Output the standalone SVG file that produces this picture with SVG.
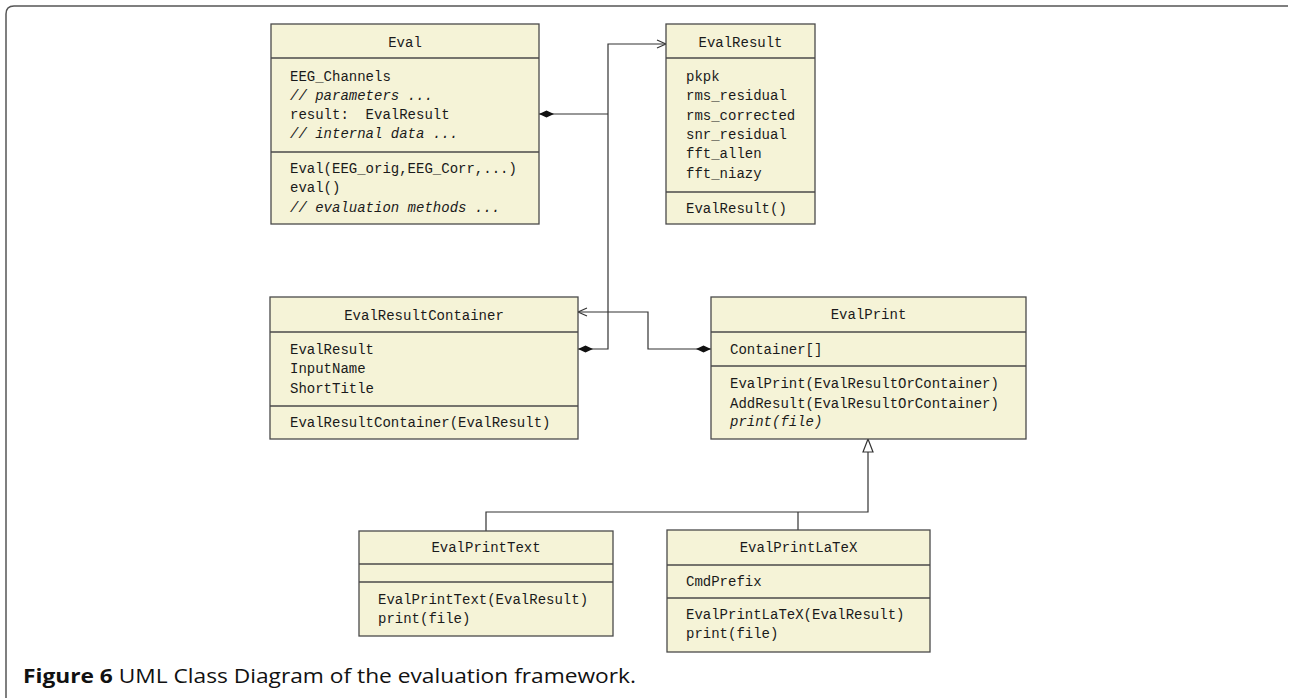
<svg xmlns="http://www.w3.org/2000/svg" width="1289" height="698" viewBox="0 0 1289 698">
<style>
.box{fill:#f5f3d7;stroke:#4a4a4a;stroke-width:1.3}
.sep{stroke:#4a4a4a;stroke-width:1.3}
.t{font-family:"Liberation Mono","DejaVu Sans Mono",monospace;font-size:14px;fill:#1a1a1a}
.i{font-style:italic}
.c{text-anchor:middle}
.ln{fill:none;stroke:#333;stroke-width:1.2}
.cap{font-family:"Open Sans","Noto Sans",sans-serif;font-size:20px;fill:#111}
</style>
<defs>
<marker id="dia" markerUnits="userSpaceOnUse" markerWidth="16" markerHeight="8" viewBox="0 0 16 8" refX="0" refY="4" orient="auto"><path d="M0,4 L7.5,0.5 L15,4 L7.5,7.5 z" fill="#111"/></marker>
<marker id="arr" markerUnits="userSpaceOnUse" markerWidth="12" markerHeight="10" viewBox="0 0 12 10" refX="10" refY="5" orient="auto"><path d="M1,1 L10,5 L1,9" fill="none" stroke="#333" stroke-width="1.1"/></marker>
<marker id="tri" markerUnits="userSpaceOnUse" markerWidth="14" markerHeight="16" viewBox="0 0 14 16" refX="14" refY="7" orient="auto"><path d="M1,2 L14,7 L1,12 z" fill="#fff" stroke="#333" stroke-width="1.2"/></marker>
</defs>
<path d="M6,698 L6,14 Q6,6 14,6 L1288,6" fill="none" stroke="#555" stroke-width="1.5"/>
<g id="connectors">
<path class="ln" d="M539,114 L608,114" marker-start="url(#dia)"/>
<path class="ln" d="M578,349 L608,349 L608,44 L666,44" marker-start="url(#dia)" marker-end="url(#arr)"/>
<path class="ln" d="M711,349 L648,349 L648,312 L578,312" marker-start="url(#dia)" marker-end="url(#arr)"/>
<path class="ln" d="M486,531 L486,512 L868,512 L868,439" marker-end="url(#tri)"/>
<path class="ln" d="M798,530 L798,512"/>
</g>
<g id="Eval">
<rect class="box" x="271" y="24" width="268" height="200"/>
<line class="sep" x1="271" y1="58" x2="539" y2="58"/>
<line class="sep" x1="271" y1="152" x2="539" y2="152"/>
<text class="t c" x="405" y="47">Eval</text>
<text class="t" x="290" y="81">EEG_Channels</text>
<text class="t i" x="290" y="100">// parameters ...</text>
<text class="t" x="290" y="119" xml:space="preserve">result:  EvalResult</text>
<text class="t i" x="290" y="138">// internal data ...</text>
<text class="t" x="290" y="173">Eval(EEG_orig,EEG_Corr,...)</text>
<text class="t" x="290" y="192">eval()</text>
<text class="t i" x="290" y="212">// evaluation methods ...</text>
</g>
<g id="EvalResult">
<rect class="box" x="666" y="24" width="149" height="200"/>
<line class="sep" x1="666" y1="58" x2="815" y2="58"/>
<line class="sep" x1="666" y1="192" x2="815" y2="192"/>
<text class="t c" x="740.5" y="47">EvalResult</text>
<text class="t" x="686" y="81">pkpk</text>
<text class="t" x="686" y="100">rms_residual</text>
<text class="t" x="686" y="120">rms_corrected</text>
<text class="t" x="686" y="139">snr_residual</text>
<text class="t" x="686" y="158">fft_allen</text>
<text class="t" x="686" y="178">fft_niazy</text>
<text class="t" x="686" y="213">EvalResult()</text>
</g>
<g id="EvalResultContainer">
<rect class="box" x="270" y="297" width="308" height="142"/>
<line class="sep" x1="270" y1="332" x2="578" y2="332"/>
<line class="sep" x1="270" y1="406" x2="578" y2="406"/>
<text class="t c" x="424" y="320">EvalResultContainer</text>
<text class="t" x="290" y="354">EvalResult</text>
<text class="t" x="290" y="373">InputName</text>
<text class="t" x="290" y="393">ShortTitle</text>
<text class="t" x="290" y="427">EvalResultContainer(EvalResult)</text>
</g>
<g id="EvalPrint">
<rect class="box" x="711" y="297" width="315" height="142"/>
<line class="sep" x1="711" y1="332" x2="1026" y2="332"/>
<line class="sep" x1="711" y1="366" x2="1026" y2="366"/>
<text class="t c" x="868.5" y="319">EvalPrint</text>
<text class="t" x="730" y="354">Container[]</text>
<text class="t" x="730" y="388">EvalPrint(EvalResultOrContainer)</text>
<text class="t" x="730" y="408">AddResult(EvalResultOrContainer)</text>
<text class="t i" x="730" y="426">print(file)</text>
</g>
<g id="EvalPrintText">
<rect class="box" x="359" y="531" width="254" height="105"/>
<line class="sep" x1="359" y1="564" x2="613" y2="564"/>
<line class="sep" x1="359" y1="582" x2="613" y2="582"/>
<text class="t c" x="486" y="552">EvalPrintText</text>
<text class="t" x="378" y="604">EvalPrintText(EvalResult)</text>
<text class="t" x="378" y="623">print(file)</text>
</g>
<g id="EvalPrintLaTeX">
<rect class="box" x="667" y="530" width="263" height="122"/>
<line class="sep" x1="667" y1="565" x2="930" y2="565"/>
<line class="sep" x1="667" y1="598" x2="930" y2="598"/>
<text class="t c" x="798.5" y="552">EvalPrintLaTeX</text>
<text class="t" x="686" y="586">CmdPrefix</text>
<text class="t" x="686" y="619">EvalPrintLaTeX(EvalResult)</text>
<text class="t" x="686" y="638">print(file)</text>
</g>
<text class="cap" x="23" y="683" textLength="613" lengthAdjust="spacingAndGlyphs"><tspan font-weight="bold">Figure 6</tspan> UML Class Diagram of the evaluation framework.</text>
</svg>
